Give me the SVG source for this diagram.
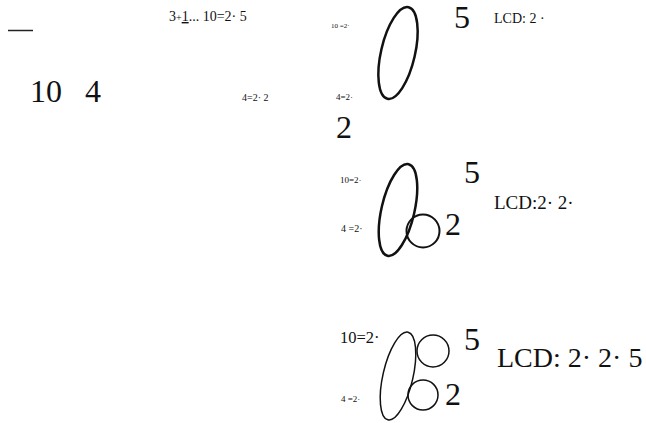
<svg xmlns="http://www.w3.org/2000/svg" width="646" height="423" viewBox="0 0 646 423">
<style>
text{font-family:'Liberation Serif','DejaVu Serif',serif;fill:#111}
.big{font-size:32px}
.loop{fill:none;stroke:#111}
</style>
<rect width="646" height="423" fill="#fff"/>
<line x1="8" y1="30.5" x2="33" y2="30.5" stroke="#222" stroke-width="1.5"/>
<text x="169" y="21" font-size="14">3<tspan font-size="10">+</tspan><tspan text-decoration="underline">1</tspan>... 10=2· 5</text>
<text class="big" x="30" y="102">10</text>
<text class="big" x="85" y="102">4</text>
<text x="242" y="101" font-size="10">4=2· 2</text>
<g id="step1">
<ellipse class="loop" cx="398" cy="53" rx="17" ry="47" transform="rotate(13 398 53)" stroke-width="2.5"/>
<text x="331" y="28" font-size="7">10 =2·</text>
<text x="336" y="100" font-size="9">4=2·</text>
<text class="big" x="454" y="28">5</text>
<text x="494" y="23" font-size="14">LCD: 2 ·</text>
<text class="big" x="336" y="138">2</text>
</g>
<g id="step2">
<ellipse class="loop" cx="398" cy="210" rx="16.5" ry="47" transform="rotate(13 398 210)" stroke-width="2.5"/>
<circle class="loop" cx="423" cy="231" r="16.5" stroke-width="2"/>
<text x="340" y="183" font-size="9">10=2·</text>
<text x="341" y="232" font-size="10">4 =2·</text>
<text class="big" x="464" y="183">5</text>
<text class="big" x="445" y="235">2</text>
<text x="494" y="209" font-size="19">LCD:2· 2·</text>
</g>
<g id="step3">
<ellipse class="loop" cx="398" cy="376" rx="15" ry="45" transform="rotate(13 398 376)" stroke-width="1.5"/>
<circle class="loop" cx="433" cy="351" r="16" stroke-width="1.5"/>
<circle class="loop" cx="423" cy="395" r="15" stroke-width="1.5"/>
<text x="340" y="343" font-size="16.5">10=2·</text>
<text x="341" y="402" font-size="9">4 =2·</text>
<text class="big" x="464" y="350">5</text>
<text class="big" x="445" y="405">2</text>
<text x="497" y="367" font-size="28">LCD: 2· 2· 5</text>
</g>
</svg>
